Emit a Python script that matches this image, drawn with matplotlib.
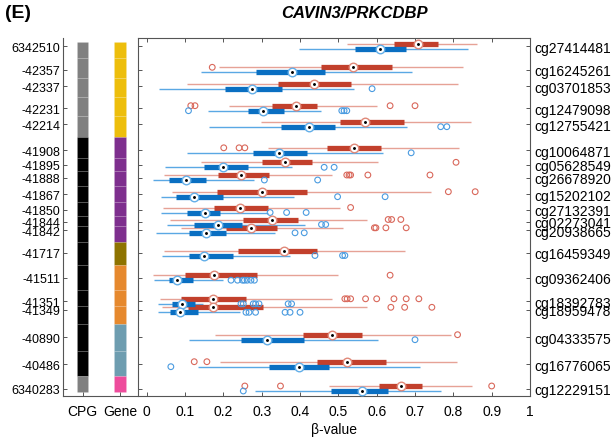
import numpy as np
import matplotlib
matplotlib.use('Agg')
from matplotlib import pyplot as plt

plt.rcParams['font.family'] = ['Liberation Sans', 'DejaVu Sans']

# - data ----------------------------------------------------------------------
cpg_pos = ['6342510', '-42357', '-42337', '-42231', '-42214', '-41908', '-41895',
           '-41888', '-41867', '-41850', '-41844', '-41842', '-41717', '-41511',
           '-41351', '-41349', '-40890', '-40486', '6340283']
probe_ids = ['cg27414481', 'cg16245261', 'cg03701853', 'cg12479098', 'cg12755421',
             'cg10064871', 'cg05628549', 'cg26678920', 'cg15202102', 'cg27132391',
             'cg02273041', 'cg20938665', 'cg16459349', 'cg09362406', 'cg18392783',
             'cg18959478', 'cg04333575', 'cg16776065', 'cg12229151']
# vertical placement of each probe row (top -> bottom)
row_y = [47.0, 70.8, 87.2, 109.2, 125.2, 151.3, 165.8, 178.5, 195.2, 211.0,
         223.0, 231.3, 254.0, 278.7, 302.3, 310.8, 338.2, 365.2, 389.5]

cpg_class = ['shore'] * 5 + ['island'] * 13 + ['shore']
gene_class = ['A'] * 5 + ['B'] * 7 + ['C'] + ['D'] * 3 + ['E'] * 2 + ['F']

# red group
red_wlo = [0.523, 0.189, 0.104, 0.215, 0.298, 0.317, 0.142, 0.046, 0.065, 0.043,
           0.061, 0.089, 0.046, 0.017, 0.035, 0.039, 0.178, 0.191, 0.475]
red_q1 = [0.645, 0.456, 0.343, 0.326, 0.503, 0.470, 0.301, 0.187, 0.183, 0.175,
          0.252, 0.207, 0.239, 0.100, 0.089, 0.109, 0.409, 0.443, 0.607]
red_med = [0.709, 0.539, 0.436, 0.390, 0.570, 0.542, 0.362, 0.245, 0.302, 0.244,
           0.326, 0.272, 0.357, 0.176, 0.172, 0.174, 0.483, 0.523, 0.663]
red_q3 = [0.759, 0.641, 0.532, 0.444, 0.671, 0.610, 0.431, 0.320, 0.417, 0.316,
          0.396, 0.339, 0.443, 0.287, 0.259, 0.303, 0.563, 0.624, 0.717]
red_whi = [0.861, 0.826, 0.811, 0.600, 0.845, 0.816, 0.603, 0.483, 0.743, 0.503,
           0.576, 0.511, 0.674, 0.500, 0.483, 0.574, 0.793, 0.809, 0.848]
red_out = [[], [0.171], [], [0.115, 0.126, 0.635, 0.700], [],
           [0.201, 0.241, 0.256], [0.807], [0.522, 0.528, 0.532, 0.577, 0.739],
           [0.787, 0.857], [0.532], [0.630, 0.639, 0.663],
           [0.594, 0.598, 0.624, 0.677], [], [0.635],
           [0.517, 0.523, 0.532, 0.571, 0.600, 0.645, 0.677, 0.710],
           [0.637, 0.673, 0.744], [0.811], [0.124, 0.157], [0.256, 0.349, 0.900]]

# blue group
blue_wlo = [0.398, 0.142, 0.032, 0.159, 0.163, 0.106, 0.048, 0.017, 0.037, 0.037,
            0.052, 0.023, 0.041, 0.020, 0.030, 0.030, 0.111, 0.133, 0.283]
blue_q1 = [0.543, 0.285, 0.204, 0.265, 0.350, 0.278, 0.150, 0.059, 0.076, 0.105,
           0.124, 0.110, 0.111, 0.058, 0.067, 0.061, 0.246, 0.319, 0.481]
blue_med = [0.609, 0.380, 0.274, 0.304, 0.424, 0.346, 0.200, 0.103, 0.124, 0.153,
            0.186, 0.155, 0.150, 0.078, 0.093, 0.087, 0.313, 0.397, 0.563]
blue_q3 = [0.676, 0.465, 0.352, 0.357, 0.490, 0.419, 0.263, 0.155, 0.200, 0.191,
           0.248, 0.206, 0.226, 0.120, 0.126, 0.135, 0.411, 0.476, 0.630]
blue_whi = [0.837, 0.691, 0.542, 0.456, 0.678, 0.617, 0.380, 0.280, 0.385, 0.316,
            0.413, 0.335, 0.374, 0.200, 0.148, 0.243, 0.603, 0.713, 0.767]
blue_out = [[], [], [0.588], [0.109, 0.509, 0.515, 0.522], [0.767, 0.783],
            [0.690], [0.463, 0.489], [0.307, 0.446], [0.498, 0.622],
            [0.322, 0.365, 0.416], [0.456, 0.467], [0.387, 0.411],
            [0.439, 0.511, 0.517],
            [0.220, 0.237, 0.250, 0.255, 0.262, 0.272, 0.281],
            [0.246, 0.252, 0.278, 0.284, 0.293, 0.369, 0.378],
            [0.259, 0.267, 0.284, 0.361, 0.374, 0.400], [0.700], [0.063], [0.252]]

cpg_colors = {'shore': '#808080', 'island': '#000000'}
gene_colors = {'A': '#EDBE0C', 'B': '#7E2F8E', 'C': '#8E7300', 'D': '#E6892E',
               'E': '#6E9DB0', 'F': '#EE4C9C'}

# - figure --------------------------------------------------------------------
W, H = 614, 439
fig = plt.figure(figsize=(W / 100, H / 100), dpi=100)
top_px, bot_px = 39, 397
ax = fig.add_axes([138 / W, 1 - bot_px / H, (530 - 138) / W, (bot_px - top_px) / H])
axl = fig.add_axes([63 / W, 1 - bot_px / H, (137 - 63) / W, (bot_px - top_px) / H])

spine_col = '#555555'


def draw_group(y, wlo, q1, med, q3, whi, outs, box_col, wsk_col, out_col, med_edge):
    ax.hlines(y, wlo, whi, color=wsk_col, lw=1.0, zorder=2)
    ax.hlines(y, q1, q3, color=box_col, lw=3.8, zorder=3)
    for yy, oo in zip(y, outs):
        if oo:
            ax.scatter(oo, [yy] * len(oo), s=17, facecolors='none',
                       edgecolors=out_col, linewidths=0.8, zorder=4)
    ax.scatter(med, y, s=38, facecolors='white', edgecolors=med_edge,
               linewidths=1.0, zorder=5)
    ax.scatter(med, y, s=1.2, color='black', zorder=6)


ry = np.array(row_y)
draw_group(ry - 2.5, red_wlo, red_q1, red_med, red_q3, red_whi, red_out,
           '#C2402C', '#E6A296', '#D9685B', '#E08878')
draw_group(ry + 2.5, blue_wlo, blue_q1, blue_med, blue_q3, blue_whi, blue_out,
           '#0A6FC2', '#5AA8E4', '#4A9BE0', '#62AEE8')

ax.set_xlim(-0.0227, 1.0)
ax.set_ylim(bot_px, top_px)
ax.set_xticks(np.arange(0, 1.01, 0.1))
ax.set_xticklabels(['0'] + ['%.1f' % v for v in np.arange(0.1, 0.95, 0.1)] + ['1'])
ax.set_yticks(row_y)
ax.set_yticklabels(probe_ids)
ax.tick_params(axis='both', direction='in', top=True, right=True, length=3,
               color=spine_col, width=0.7)
ax.tick_params(axis='y', labelleft=False, labelright=True, labelsize=10, pad=3)
ax.tick_params(axis='x', labelsize=10, pad=6)
for s in ax.spines.values():
    s.set_color(spine_col)
    s.set_linewidth(0.8)
ax.set_xlabel('β-value', fontsize=10, labelpad=3)

# - left annotation columns ---------------------------------------------------
edges = [(a + b) / 2 for a, b in zip(row_y[:-1], row_y[1:])]
tops = [row_y[0] - 3.7] + edges
bots = edges + [row_y[-1] + 3.8]
for t, b, c, g in zip(tops, bots, cpg_class, gene_class):
    axl.bar(1, b - t, bottom=t, width=0.31, color=cpg_colors[c],
            edgecolor=(1, 1, 1, 0.12), linewidth=0.5)
    axl.bar(2, b - t, bottom=t, width=0.31, color=gene_colors[g],
            edgecolor=(1, 1, 1, 0.12), linewidth=0.5)
axl.set_xlim(0.48, 2.453)
axl.set_ylim(bot_px, top_px)
axl.set_yticks(row_y)
axl.set_yticklabels(cpg_pos)
axl.set_xticks([1, 2])
axl.set_xticklabels(['CPG', 'Gene'])
axl.tick_params(direction='in', length=3, color=spine_col, width=0.7)
axl.tick_params(axis='y', labelsize=9, pad=2)
axl.tick_params(axis='x', labelsize=10, pad=6)
axl.spines['top'].set_visible(False)
axl.spines['right'].set_visible(False)
for s in ['left', 'bottom']:
    axl.spines[s].set_color(spine_col)
    axl.spines[s].set_linewidth(0.8)

fig.text(355 / W, 1 - 14 / H, 'CAVIN3/PRKCDBP', ha='center', va='center',
         fontsize=12, fontweight='bold', fontstyle='italic')
fig.text(5 / W, 1 - 14 / H, '(E)', ha='left', va='center', fontsize=14,
         fontweight='bold')

fig.savefig('out.png', dpi=100)
